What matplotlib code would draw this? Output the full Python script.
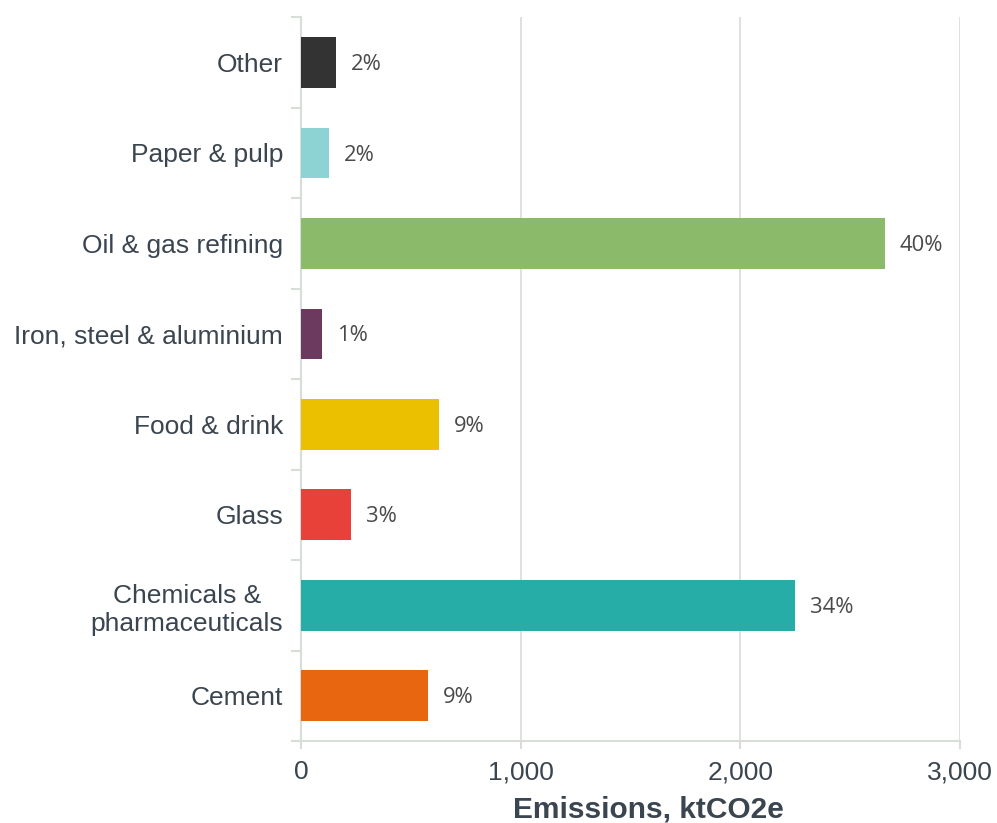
import matplotlib.pyplot as plt
import numpy as np
from matplotlib.ticker import FixedLocator, FuncFormatter

# data, bottom to top
sectors = ["Cement", "Chemicals &\npharmaceuticals", "Glass", "Food & drink",
           "Iron, steel & aluminium", "Oil & gas refining", "Paper & pulp", "Other"]
emissions = [577, 2250, 228, 628, 96, 2659, 127, 158]
shares = ["9%", "34%", "3%", "9%", "1%", "40%", "2%", "2%"]
colors = ["#e96610", "#27ada8", "#e8413a", "#ebc000",
          "#6b3a5e", "#8aba6a", "#8dd3d3", "#333333"]
x_ticks = [0, 1000, 2000, 3000]

axis_grey = "#d6ded7"
text_col = "#3b4550"

fig = plt.figure(figsize=(9.97, 8.23), dpi=100)
ax = fig.add_axes([0.302, 0.0996, 0.661, 0.8795])

y = np.arange(len(sectors))
ax.barh(y, emissions, height=0.56, color=colors, zorder=3)

for yi, v, s in zip(y, emissions, shares):
    ax.annotate(s, (v, yi), xytext=(10.5, -1.5), textcoords="offset points",
                ha="left", va="center", fontsize=15.8, color="#4a4a4a",
                family=["Open Sans", "DejaVu Sans"])

ax.set_xlim(0, 3000)
ax.set_ylim(-0.5, len(sectors) - 0.5)

ax.xaxis.set_major_locator(FixedLocator(x_ticks))
ax.xaxis.set_major_formatter(FuncFormatter(lambda v, p: f"{int(v):,}"))
ax.grid(axis="x", color=axis_grey, linewidth=1.2, zorder=0)

ax.set_yticks(y)
ax.set_yticklabels(sectors)
ax.yaxis.set_minor_locator(FixedLocator(np.arange(-0.5, len(sectors), 1.0)))
ax.tick_params(axis="y", which="major", length=0, pad=13, labelsize=19,
               labelcolor=text_col)
ax.tick_params(axis="y", which="minor", length=7, width=1.5, color=axis_grey)
ax.tick_params(axis="x", length=6, width=1.5, color=axis_grey, labelsize=19,
               labelcolor=text_col, pad=8)
for lab in ax.get_yticklabels():
    lab.set_family(["Liberation Sans", "DejaVu Sans"])
    lab.set_multialignment("center")
for lab in ax.get_xticklabels():
    lab.set_family(["Liberation Sans", "DejaVu Sans"])

for side in ["top", "right"]:
    ax.spines[side].set_visible(False)
for side in ["left", "bottom"]:
    ax.spines[side].set_color(axis_grey)
    ax.spines[side].set_linewidth(1.5)

ax.set_xlabel("Emissions, ktCO2e", fontsize=21.5, fontweight="bold",
              color=text_col, family=["Liberation Sans", "DejaVu Sans"])
ax.xaxis.set_label_coords(0.527, -0.075)

fig.savefig("out.png", dpi=100, facecolor="white")
